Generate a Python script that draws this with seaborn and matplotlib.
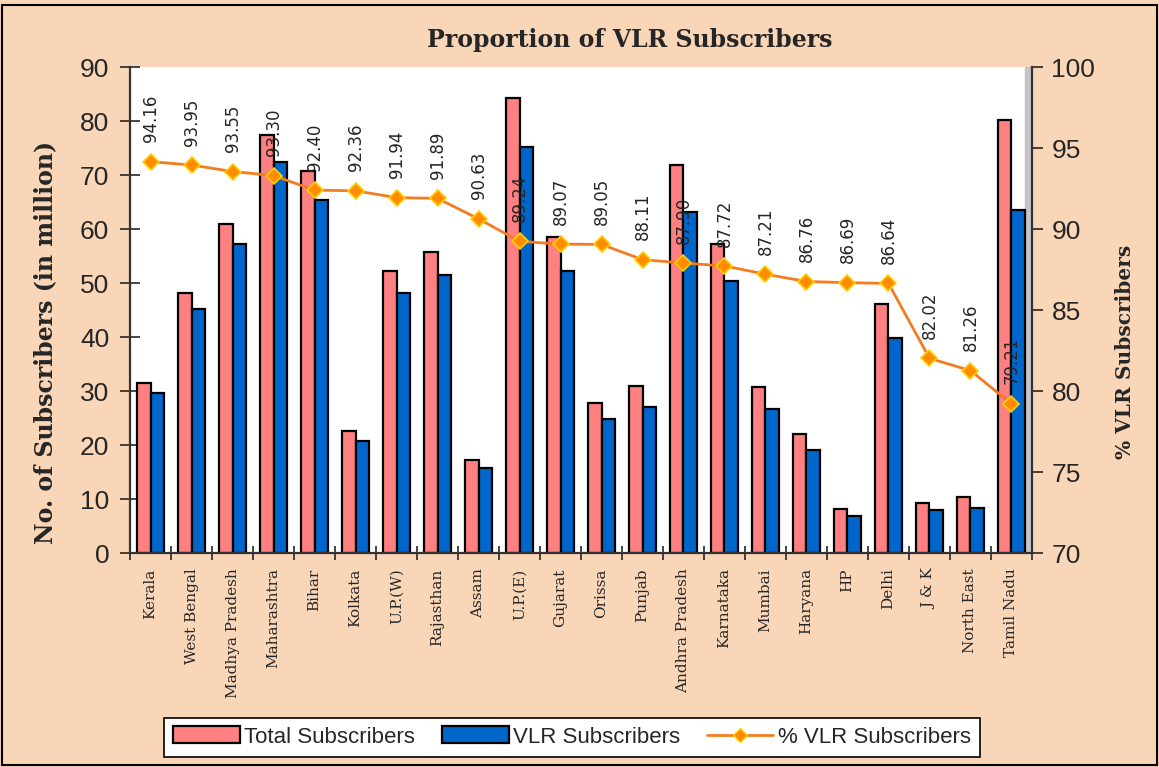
import pandas as pd
import matplotlib.pyplot as plt
import seaborn as sns
import numpy as np
from matplotlib.lines import Line2D
from matplotlib.patches import Rectangle

states = ['Kerala', 'West Bengal', 'Madhya Pradesh', 'Maharashtra', 'Bihar', 'Kolkata',
          'U.P.(W)', 'Rajasthan', 'Assam', 'U.P.(E)', 'Gujarat', 'Orissa', 'Punjab',
          'Andhra Pradesh', 'Karnataka', 'Mumbai', 'Haryana', 'HP', 'Delhi', 'J & K',
          'North East', 'Tamil Nadu']
total_subs = [31.4, 48.1, 61.0, 77.4, 70.7, 22.6, 52.2, 55.7, 17.2, 84.2, 58.6,
              27.8, 30.9, 71.8, 57.3, 30.7, 22.1, 8.1, 46.2, 9.3, 10.3, 80.1]
vlr_subs = [29.7, 45.2, 57.3, 72.5, 65.3, 20.7, 48.1, 51.4, 15.7, 75.1, 52.3,
            24.9, 27.1, 63.1, 50.4, 26.7, 19.1, 6.9, 39.9, 7.9, 8.4, 63.5]
pct_vlr = [94.16, 93.95, 93.55, 93.30, 92.40, 92.36, 91.94, 91.89, 90.63, 89.24, 89.07,
           89.05, 88.11, 87.90, 87.72, 87.21, 86.76, 86.69, 86.64, 82.02, 81.26, 79.21]

df = pd.DataFrame({'State': states, 'Total Subscribers': total_subs, 'VLR Subscribers': vlr_subs})
df_long = df.melt(id_vars='State', var_name='Series', value_name='Subscribers')

bg = '#FAD6B8'
line_col = '#F47C20'
sns.set_style('white')
plt.rcParams['font.family'] = ['Liberation Sans', 'DejaVu Sans']

fig = plt.figure(figsize=(11.59, 7.67), dpi=100, facecolor=bg)
ax = fig.add_axes([0.1122, 0.279, 0.7782, 0.6336])
ax.set_facecolor('white')

sns.barplot(data=df_long, x='State', y='Subscribers', hue='Series',
            palette=['#FF8080', '#0066CC'], width=0.64, edgecolor='black',
            linewidth=1.6, ax=ax, saturation=1)
ax.get_legend().remove()

ax.set_ylim(0, 90)
ax.set_yticks(np.arange(0, 91, 10))
ax.set_xlim(-0.5, len(states) - 0.5)
ax.set_xlabel('')
ax.set_ylabel('')
ax.tick_params(axis='y', labelsize=19, direction='inout', length=14, width=1.2, left=True, pad=8)
ax.set_xticks(np.arange(len(states)))
ax.set_xticklabels(states, rotation=90, fontsize=11, family='DejaVu Serif')
ax.tick_params(axis='x', which='major', length=0, pad=11)
ax.set_xticks(np.arange(-0.5, len(states)), minor=True)
ax.tick_params(axis='x', which='minor', direction='inout', length=10, width=1.2, bottom=True)
for s in ['left', 'bottom']:
    ax.spines[s].set_color('#333333')
    ax.spines[s].set_linewidth(1.6)
ax.spines['top'].set_visible(False)
ax.spines['right'].set_visible(False)

# gray shading along the right wall
ax.axvspan(len(states) - 0.5 - 0.18, len(states) - 0.5, color='#B0B0B0', alpha=0.7, zorder=0)

ax2 = ax.twinx()
sns.lineplot(x=np.arange(len(states)), y=pct_vlr, ax=ax2, color=line_col, linewidth=2,
             marker='D', markersize=8, markerfacecolor='#FF8C00', markeredgecolor='#FFD000',
             markeredgewidth=1.2)
ax2.set_ylim(70, 100)
ax2.set_yticks(np.arange(70, 101, 5))
ax2.tick_params(axis='y', labelsize=19, direction='out', length=8, width=1.2, right=True, pad=6)
for s in ['top', 'left', 'bottom']:
    ax2.spines[s].set_visible(False)
ax2.spines['right'].set_color('#333333')
ax2.spines['right'].set_linewidth(1.6)

for i, v in enumerate(pct_vlr):
    ax2.annotate(f'{v:.2f}', (i, v), xytext=(0, 14), textcoords='offset points',
                 rotation=90, ha='center', va='bottom', fontsize=12,
                 family=['Liberation Sans Narrow', 'DejaVu Sans Condensed', 'DejaVu Sans'])

fig.text(0.5436, 0.948, 'Proportion of VLR Subscribers', ha='center', va='center',
         fontsize=17, fontweight='bold', family='DejaVu Serif')
fig.text(0.039, 0.553, 'No. of Subscribers (in million)', rotation=90, ha='center', va='center',
         fontsize=17, fontweight='bold', family='DejaVu Serif')
fig.text(0.971, 0.541, '% VLR Subscribers', rotation=90, ha='center', va='center',
         fontsize=14.5, fontweight='bold', family='DejaVu Serif')

handles, labels = ax.get_legend_handles_labels()
line_h = Line2D([0], [0], color=line_col, linewidth=2, marker='D', markersize=7,
                markerfacecolor='#FF8C00', markeredgecolor='#FFD000')
leg = fig.legend(handles + [line_h], ['Total Subscribers', 'VLR Subscribers', '% VLR Subscribers'],
                 loc='center', bbox_to_anchor=(0.4936, 0.039), ncol=3, fontsize=16,
                 frameon=True, fancybox=False, edgecolor='black', facecolor='white',
                 framealpha=1, handlelength=3.0, handleheight=0.8, columnspacing=1.2,
                 handletextpad=0.2, borderpad=0.4, borderaxespad=0)
leg.get_frame().set_linewidth(1.2)

fig.add_artist(Rectangle((0.002, 0.002), 0.996, 0.992, transform=fig.transFigure,
                         fill=False, edgecolor='black', linewidth=1.5))

plt.savefig('out.png', dpi=100, facecolor=bg)
